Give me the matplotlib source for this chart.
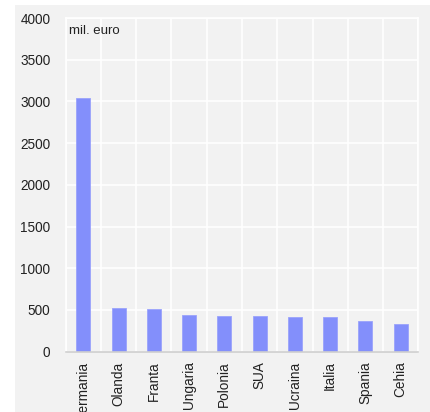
import matplotlib.pyplot as plt
import matplotlib.patches as mpatches
import numpy as np

countries = ["Germania", "Olanda", "Franta", "Ungaria", "Polonia",
             "SUA", "Ucraina", "Italia", "Spania", "Cehia"]
values = [3045, 524, 512, 443, 428, 427, 419, 419, 371, 335]
yticks = [0, 500, 1000, 1500, 2000, 2500, 3000, 3500, 4000]

plt.rcParams['font.family'] = ['Liberation Sans', 'DejaVu Sans']

fig = plt.figure(figsize=(4.3, 4.12), dpi=100, facecolor='white')
bg = mpatches.Rectangle((15 / 430, 0), 1 - 15 / 430, (412 - 5) / 412,
                        transform=fig.transFigure, facecolor='#f2f2f2',
                        edgecolor='none', zorder=-10)
fig.patches.append(bg)

ax = fig.add_axes([65.7 / 430, (412 - 351.7) / 412,
                   (418.3 - 65.7) / 430, (351.7 - 18) / 412])
ax.set_facecolor('#f2f2f2')

x = np.arange(len(countries))
ax.bar(x, values, width=0.4, color='#838ffb', edgecolor='#9aa3fb',
       linewidth=0.6, zorder=3)

ax.set_xlim(-0.5, len(countries) - 0.5)
ax.set_ylim(0, 4000)
ax.set_yticks(yticks)
ax.set_yticklabels([str(v) for v in yticks])
ax.set_xticks(x)
ax.set_xticklabels(countries, rotation=90, va='top')
ax.set_xticks(np.arange(-0.5, len(countries), 1.0), minor=True)

ax.grid(axis='y', which='major', color='white', linewidth=1.2, zorder=1)
ax.grid(axis='x', which='minor', color='white', linewidth=1.2, zorder=1)
ax.tick_params(axis='both', which='both', length=0, labelsize=9.8,
               colors='#222222')
ax.tick_params(axis='y', pad=11)
ax.tick_params(axis='x', pad=7)

for side in ['top', 'left', 'right']:
    ax.spines[side].set_color('white')
    ax.spines[side].set_linewidth(1.2)
ax.spines['bottom'].set_color('#cfcfcf')
ax.spines['bottom'].set_linewidth(1.2)
ax.spines['bottom'].set_zorder(4)

ax.text(0.008, 0.962, "mil. euro", transform=ax.transAxes, fontsize=9.5,
        ha='left', va='center', color='#222222')

fig.savefig("out.png", dpi=100, facecolor=fig.get_facecolor())
